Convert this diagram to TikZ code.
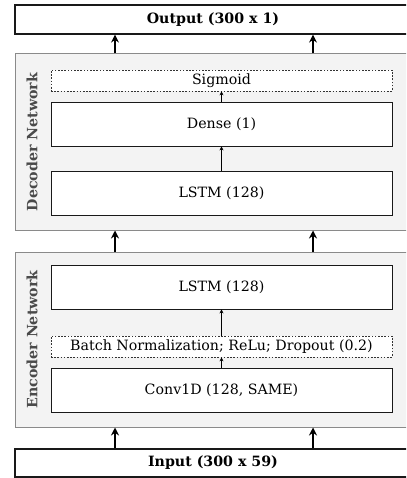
\documentclass[tikz,border=0pt]{standalone}
\usepackage{fontspec}
\setmainfont{DejaVu Serif}
\usetikzlibrary{arrows.meta}
\definecolor{panelfill}{HTML}{F3F3F3}
\definecolor{panelline}{HTML}{8A8A8A}
\definecolor{labelgrey}{HTML}{4A4A4A}
\tikzset{
  iobox/.style={draw=black!90, line width=1.2pt, fill=white, inner sep=0pt, minimum width=396pt, font=\bfseries\fontsize{14.2}{16}\selectfont},
  panel/.style={draw=panelline, line width=1pt, fill=panelfill, inner sep=0pt, minimum width=396pt},
  layer/.style={draw=black!90, line width=0.8pt, fill=white, inner sep=0pt, minimum width=341pt, minimum height=44pt, font=\fontsize{14.2}{16}\selectfont},
  actbox/.style={draw=black!80, line width=0.7pt, dash pattern=on 1.6pt off 1.6pt, fill=white, inner sep=0pt, minimum width=341pt, minimum height=21pt, font=\fontsize{14.2}{16}\selectfont},
  plabel/.style={rotate=90, text=labelgrey, font=\bfseries\fontsize{14.2}{16}\selectfont},
  bigarrow/.style={line width=1.4pt, -{Stealth[length=8pt,width=8pt]}},
  smallarrow/.style={line width=0.6pt, -{Stealth[length=4pt,width=4pt]}},
}
\begin{document}
\begin{tikzpicture}[x=1pt,y=-1pt]
\useasboundingbox (0,0) rectangle (406,478);
\clip (0,0) rectangle (406,478);
% outer boxes
\node[iobox, minimum height=29pt] (out) at (213,19.5) {Output (300 x 1)};
\node[iobox, minimum height=28pt] (in) at (213,463) {Input (300 x 59)};
% panels
\node[panel, minimum height=176pt] (dec) at (213,142) {};
\node[panel, minimum height=175pt] (enc) at (213,339.5) {};
\node[plabel] (declab) at (32,142) {Decoder Network};
\node[plabel] (enclab) at (32,339.5) {Encoder Network};
% decoder layers
\node[actbox] (sig) at (221.5,80.5) {Sigmoid};
\node[layer] (dense) at (221.5,124) {Dense (1)};
\node[layer] (lstmd) at (221.5,193) {LSTM (128)};
% encoder layers
\node[layer] (lstme) at (221.5,287) {LSTM (128)};
\node[actbox] (bn) at (221.5,346.5) {Batch Normalization; ReLu; Dropout (0.2)};
\node[layer] (conv) at (221.5,390) {Conv1D (128, SAME)};
% inner arrows
\draw[smallarrow] (conv.north) -- (bn.south);
\draw[smallarrow] (bn.north) -- (lstme.south);
\draw[smallarrow] (lstmd.north) -- (dense.south);
\draw[smallarrow] (dense.north) -- (sig.south);
% big arrows
\foreach \xx in {115,313}{
  \draw[bigarrow] (in.north -| \xx,0) -- (enc.south -| \xx,0);
  \draw[bigarrow] (enc.north -| \xx,0) -- (dec.south -| \xx,0);
  \draw[bigarrow] (dec.north -| \xx,0) -- (out.south -| \xx,0);
}
\end{tikzpicture}
\end{document}
